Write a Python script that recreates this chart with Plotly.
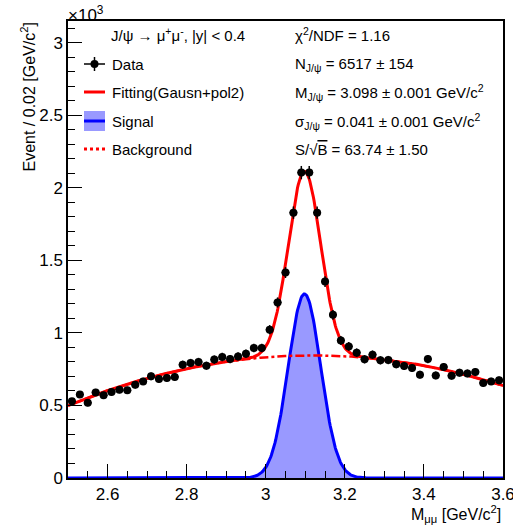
import numpy as np
import plotly.graph_objects as go

# ---- data: dimuon invariant-mass histogram (counts / 1000, 0.02 GeV/c^2 bins) ----
bin_centers = [round(2.51 + 0.02 * i, 2) for i in range(55)]
counts_k = [
    0.529, 0.575, 0.518, 0.590, 0.570, 0.593, 0.609, 0.604, 0.643, 0.666,
    0.701, 0.683, 0.690, 0.697, 0.781, 0.793, 0.800, 0.774, 0.816, 0.834,
    0.820, 0.838, 0.857, 0.896, 0.896, 1.022, 1.210, 1.416, 1.829, 2.105,
    2.105, 1.829, 1.354, 1.125, 0.948, 0.907, 0.864, 0.818, 0.850, 0.811,
    0.813, 0.784, 0.772, 0.758, 0.712, 0.820, 0.707, 0.765, 0.705, 0.726,
    0.721, 0.731, 0.655, 0.666, 0.673,
]
bin_width = 0.02

# ---- fit results (Gausn + pol2) ----
n_jpsi = 6517.0
m_jpsi = 3.098
sigma_jpsi = 0.041
bkg_p0 = 0.845     # pol2 around x_ref, in 10^3 counts
bkg_p1 = 0.035
bkg_p2 = -0.902
bkg_xref = 3.1

x_tick_vals = [2.6, 2.8, 3.0, 3.2, 3.4, 3.6]
x_tick_text = ["2.6", "2.8", "3", "3.2", "3.4", "3.6"]
y_tick_vals = [0, 0.5, 1, 1.5, 2, 2.5, 3]
y_tick_text = ["0", "0.5", "1", "1.5", "2", "2.5", "3"]

# ---- fit functions evaluated on a fine grid ----
xf = np.linspace(2.5, 3.6, 600)
amp = n_jpsi * bin_width / (np.sqrt(2 * np.pi) * sigma_jpsi) / 1000.0
sig = amp * np.exp(-0.5 * ((xf - m_jpsi) / sigma_jpsi) ** 2)
dx = xf - bkg_xref
bkg = bkg_p0 + bkg_p1 * dx + bkg_p2 * dx ** 2
tot = sig + bkg

yerr = [np.sqrt(v * 1000.0) / 1000.0 for v in counts_k]

RED = "#ff0000"
BLUE = "#0000ff"
FONT = "Liberation Sans, Arial, Helvetica, sans-serif"

fig = go.Figure()
fig.add_trace(go.Scatter(x=xf, y=sig, mode="lines", fill="tozeroy",
                         fillcolor="rgba(0,0,255,0.40)",
                         line=dict(color=BLUE, width=3), hoverinfo="skip"))
fig.add_trace(go.Scatter(x=xf, y=bkg, mode="lines",
                         line=dict(color=RED, width=2.5, dash="dashdot"), hoverinfo="skip"))
fig.add_trace(go.Scatter(x=xf, y=tot, mode="lines",
                         line=dict(color=RED, width=3), hoverinfo="skip"))
fig.add_trace(go.Scatter(x=bin_centers, y=counts_k, mode="markers",
                         marker=dict(color="black", size=8, symbol="circle"),
                         error_y=dict(type="data", array=yerr, width=0, thickness=1.5, color="black"),
                         error_x=dict(type="constant", value=bin_width / 2, width=0, thickness=1.5, color="black")))

# plot-area geometry (pixels) used to place the hand-drawn legend
L, R, T, B = 68, 10, 21, 50
W, H = 513, 528
PW, PH = W - L - R, H - T - B


def px(x):
    return (x - L) / PW


def py(y):
    return (H - B - y) / PH


shapes = []
# Data symbol
shapes.append(dict(type="line", xref="paper", yref="paper", x0=px(84), x1=px(105), y0=py(64), y1=py(64),
                   line=dict(color="black", width=1.5)))
shapes.append(dict(type="line", xref="paper", yref="paper", x0=px(94.5), x1=px(94.5), y0=py(57), y1=py(71),
                   line=dict(color="black", width=1.5)))
shapes.append(dict(type="circle", xref="paper", yref="paper", x0=px(90.5), x1=px(98.5), y0=py(60), y1=py(68),
                   fillcolor="black", line=dict(color="black", width=0)))
# Fitting symbol
shapes.append(dict(type="line", xref="paper", yref="paper", x0=px(84), x1=px(105), y0=py(92), y1=py(92),
                   line=dict(color=RED, width=3)))
# Signal symbol
shapes.append(dict(type="rect", xref="paper", yref="paper", x0=px(84), x1=px(105), y0=py(111), y1=py(131),
                   fillcolor="rgba(0,0,255,0.40)", line=dict(width=0)))
shapes.append(dict(type="line", xref="paper", yref="paper", x0=px(84), x1=px(105), y0=py(121), y1=py(121),
                   line=dict(color=BLUE, width=3)))
# Background symbol
shapes.append(dict(type="line", xref="paper", yref="paper", x0=px(84), x1=px(105), y0=py(149), y1=py(149),
                   line=dict(color=RED, width=3, dash="dot")))

left_texts = [
    (109, 35, "J/ψ → μ<sup>+</sup>μ<sup>-</sup>, |y| < 0.4"),
    (110, 64, "Data"),
    (110, 92, "Fitting(Gausn+pol2)"),
    (110, 121, "Signal"),
    (110, 149, "Background"),
]
right_texts = [
    (293, 35, "χ<sup>2</sup>/NDF = 1.16"),
    (293, 64, "N<sub>J/ψ</sub> = 6517 ± 154"),
    (293, 92, "M<sub>J/ψ</sub> = 3.098 ± 0.001 GeV/c<sup>2</sup>"),
    (293, 121, "σ<sub>J/ψ</sub> = 0.041 ± 0.001 GeV/c<sup>2</sup>"),
    (293, 149, "S/√<span style='text-decoration:overline'>B</span> = 63.74 ± 1.50"),
]
annotations = []
for x, y, t in left_texts + right_texts:
    annotations.append(dict(x=px(x), y=py(y), xref="paper", yref="paper", text=t, showarrow=False,
                            xanchor="left", yanchor="middle", font=dict(size=15, color="black", family=FONT)))

# exponent label and axis titles
annotations.append(dict(x=px(66), y=py(1), xref="paper", yref="paper", text="×10<sup>3</sup>", showarrow=False,
                        xanchor="left", yanchor="top", font=dict(size=17, color="black", family=FONT)))
annotations.append(dict(x=px(28), y=1.0, xref="paper", yref="paper",
                        text="Event / 0.02 [GeV/c<sup>2</sup>]", textangle=-90, showarrow=False,
                        xanchor="center", yanchor="top", font=dict(size=16, color="black", family=FONT)))
annotations.append(dict(x=1.0, y=py(514), xref="paper", yref="paper",
                        text="M<sub>μμ</sub> [GeV/c<sup>2</sup>]", showarrow=False,
                        xanchor="right", yanchor="middle", font=dict(size=16, color="black", family=FONT)))

fig.update_layout(
    width=W, height=H, margin=dict(l=L, r=R, t=T, b=B, autoexpand=False),
    paper_bgcolor="white", plot_bgcolor="white", showlegend=False,
    font=dict(family=FONT, color="black"),
    shapes=shapes, annotations=annotations,
)
fig.update_xaxes(range=[2.5, 3.6], tickvals=x_tick_vals, ticktext=x_tick_text, automargin=False,
                 ticks="inside", ticklen=14, tickwidth=1.2, tickcolor="black", ticklabeloverflow="allow",
                 minor=dict(ticks="inside", ticklen=7, dtick=0.05, tick0=2.5, tickcolor="black", tickwidth=1.2),
                 showline=True, linecolor="black", linewidth=1.5, mirror=True,
                 showgrid=False, zeroline=False, tickfont=dict(size=17, family=FONT, color="black"))
fig.update_yaxes(range=[0, 3.15], tickvals=y_tick_vals, ticktext=y_tick_text, automargin=False,
                 ticks="inside", ticklen=14, tickwidth=1.2, tickcolor="black",
                 minor=dict(ticks="inside", ticklen=7, dtick=0.1, tick0=0, tickcolor="black", tickwidth=1.2),
                 showline=True, linecolor="black", linewidth=1.5, mirror=True,
                 showgrid=False, zeroline=False, tickfont=dict(size=17, family=FONT, color="black"))

fig.write_html("out.html")
